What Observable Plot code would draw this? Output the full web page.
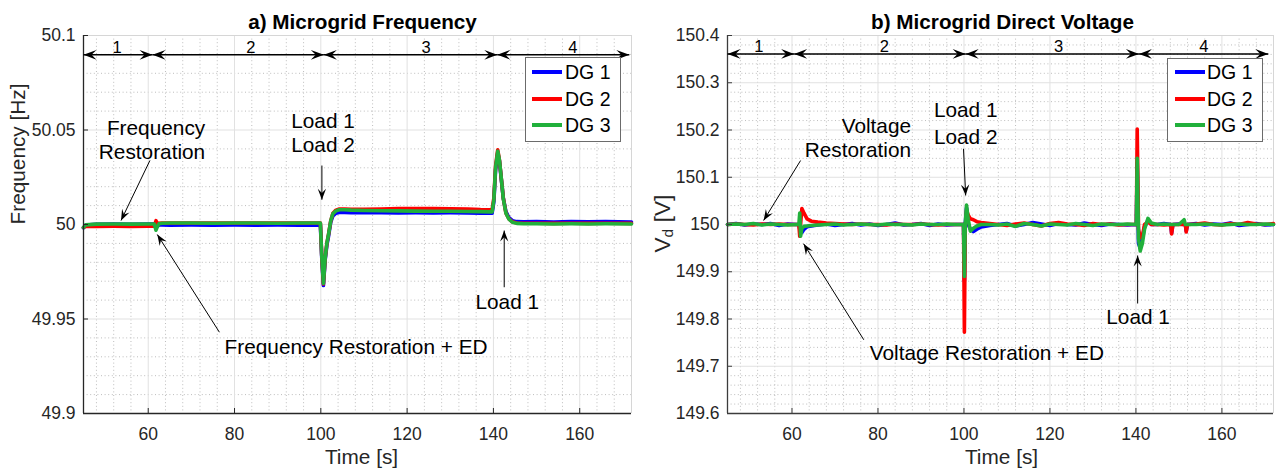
<!DOCTYPE html>
<html>
<head>
<meta charset="utf-8">
<script src="https://cdn.jsdelivr.net/npm/d3@7"></script>
<script src="https://cdn.jsdelivr.net/npm/@observablehq/plot@0.6"></script>
<style>
  body { margin: 0; background: #fff; }
  #wrap { position: relative; width: 1283px; height: 470px; background: #fff; overflow: hidden; }
  .panel { position: absolute; top: 0; }
  .legend { position: absolute; background: #fff; border: 1.5px solid #6b6b6b; box-sizing: border-box;
            font-family: 'Liberation Sans', Arial, sans-serif; font-size: 19.5px; color: #000; }
  .legend .sw { position: absolute; height: 4px; }
  .legend .lb { position: absolute; line-height: 20px; white-space: nowrap; }
</style>
</head>
<body>
<div id="wrap">
  <div id="pa" class="panel" style="left:0px"></div>
  <div id="pb" class="panel" style="left:640px"></div>
</div>
<script>
// ---------------- DATA ----------------
const seriesNames = ["DG 1", "DG 2", "DG 3"];
const seriesColors = ["#0000ff", "#ff0000", "#21b03b"];

// a) Microgrid frequency [Hz]
const tF = [45, 45.5, 48, 52, 56, 60, 61.4, 61.8, 62.1, 62.5, 63.2, 65, 70, 75, 80, 85, 90, 95,
  99.9, 100.2, 100.6, 101.0, 101.4, 101.8, 102.3, 102.8, 103.5, 104.3, 105.5,
  107, 110, 114, 118, 122, 126, 130, 134, 137,
  139.7, 140.1, 140.5, 141.0, 141.4, 141.8, 142.3, 142.9, 143.6, 144.4, 145.4,
  147, 150, 154, 158, 162, 166, 172];
const dg1F = [49.9982, 49.9997, 50.0001, 50.0002, 50.0001, 50.0002,
  50.0002, 49.9985, 49.999, 49.9997, 49.9997,
  49.9996, 49.9997, 49.9996, 49.9997, 49.9996, 49.9997, 49.9996,
  49.9997, 49.983, 49.9677, 49.981, 49.989, 49.994, 50.0012, 50.0045, 50.006, 50.0064, 50.0064,
  50.0063, 50.0062, 50.0062, 50.0061, 50.0062, 50.0061, 50.0062, 50.0061, 50.006,
  50.006, 50.012, 50.029, 50.038, 50.0335, 50.0245, 50.0138, 50.0068, 50.0036, 50.002, 50.0015,
  50.0014, 50.0015, 50.0013, 50.0015, 50.0014, 50.0015, 50.0013];
const dg2F = [49.9984, 49.999, 49.999, 49.9991, 49.999, 49.9991,
  49.9991, 50.002, 50.0005, 50.0007, 50.0008,
  50.0008, 50.0008, 50.0008, 50.0008, 50.0008, 50.0008, 50.0008,
  50.0008, 49.984, 49.9685, 49.982, 49.990, 49.995, 50.002, 50.006, 50.0076, 50.0082, 50.0082,
  50.0081, 50.008, 50.0082, 50.0084, 50.0085, 50.0084, 50.0083, 50.0082, 50.0079,
  50.0078, 50.014, 50.031, 50.0395, 50.034, 50.025, 50.0138, 50.006, 50.003, 50.0014, 50.0008,
  50.0007, 50.0007, 50.0006, 50.0007, 50.0006, 50.0007, 50.0006];
const dg3F = [49.9985, 49.9998, 50.0002, 50.0003, 50.0002, 50.0003,
  50.0003, 49.997, 49.9988, 50.0004, 50.0007,
  50.0008, 50.0008, 50.0007, 50.0008, 50.0008, 50.0007, 50.0008,
  50.0008, 49.984, 49.9688, 49.982, 49.990, 49.995, 50.002, 50.0058, 50.0072, 50.0078, 50.0078,
  50.0076, 50.0074, 50.0073, 50.0072, 50.0071, 50.007, 50.007, 50.0069, 50.0068,
  50.0067, 50.013, 50.030, 50.0388, 50.034, 50.025, 50.0135, 50.006, 50.0028, 50.0012, 50.0006,
  50.0004, 50.0004, 50.0003, 50.0004, 50.0003, 50.0004, 50.0003];

// b) Microgrid direct voltage [V]
const tV = [45, 47, 49, 51, 53, 55, 57, 59, 61,
  61.6, 61.8, 62.0, 62.3, 62.8, 63.5, 64.5,
  66, 68, 70, 72, 74, 76, 78, 80, 82, 84, 86, 88, 90, 92, 94, 96, 98,
  99.9, 100.1, 100.3, 100.6, 101.0, 101.5, 102.2, 103, 104,
  106, 108, 110, 112, 114, 116, 118, 120, 122, 124, 126, 128, 130, 132, 134, 136, 138,
  140.1, 140.3, 140.6, 141.0, 141.5, 142.0, 142.8, 143.6,
  145, 146.5, 148.1, 148.3, 148.6, 150, 151.2, 151.5, 151.7, 152.0,
  154, 156, 158, 160, 162, 164, 166, 168, 170, 172];
const dg1V = [150.0, 150.002, 149.999, 150.001, 150.0, 150.002, 149.998, 150.001, 150.0,
  150.0, 149.99, 149.982, 149.983, 149.99, 149.995, 149.997,
  149.999, 150.001, 149.998, 150.0, 150.002, 149.999, 150.001, 149.998, 150.0, 150.003, 149.999, 150.0, 150.002, 149.998, 150.001, 149.999, 150.0,
  150.0, 149.88, 150.0, 150.035, 150.0, 149.99, 149.985, 149.99, 149.995,
  149.998, 150.0, 150.002, 149.997, 150.0, 150.004, 150.001, 149.998, 150.002, 150.0, 149.999, 150.003, 150.0, 149.998, 150.001, 150.0, 149.999,
  150.0, 150.13, 149.96, 149.95, 149.97, 149.995, 150.008, 150.0,
  150.0, 150.002, 150.0, 149.982, 150.0, 150.001, 150.0, 150.0, 149.986, 150.0,
  150.002, 149.999, 150.001, 150.0, 150.003, 149.998, 150.0, 150.002, 149.999, 150.0];
const dg2V = [150.0, 150.001, 150.0, 149.999, 150.001, 150.0, 150.001, 150.0, 150.0,
  150.0, 149.975, 150.0, 150.034, 150.024, 150.012, 150.007,
  150.005, 150.003, 150.002, 150.001, 150.0, 150.001, 150.0, 150.0, 149.999, 150.001, 150.0, 150.0, 150.001, 150.0, 149.999, 150.0, 150.0,
  150.0, 149.772, 149.99, 150.03, 150.02, 150.012, 150.01, 150.006, 150.004,
  150.002, 150.0, 149.998, 150.001, 150.003, 150.0, 149.997, 150.002, 150.004, 150.001, 150.0, 149.998, 150.002, 150.0, 150.001, 149.999, 150.0,
  150.0, 150.202, 149.99, 149.972, 149.975, 150.0, 150.005, 150.0,
  150.0, 149.999, 150.0, 149.98, 150.0, 150.0, 150.0, 150.0, 149.984, 150.0,
  150.001, 150.003, 150.0, 149.999, 150.002, 150.0, 150.004, 150.001, 150.0, 150.002];
const dg3V = [150.0, 150.001, 150.0, 150.002, 149.999, 150.001, 150.0, 149.999, 150.0,
  150.0, 150.024, 149.975, 149.992, 149.996, 149.997, 149.998,
  149.999, 150.0, 150.001, 149.999, 150.0, 150.001, 150.0, 149.999, 150.001, 150.0, 150.0, 149.999, 150.001, 150.0, 150.0, 150.001, 150.0,
  150.0, 149.89, 150.0, 150.041, 150.01, 149.986, 149.992, 149.997, 150.0,
  150.0, 149.999, 150.001, 149.996, 150.002, 150.0, 149.997, 150.001, 150.0, 149.999, 150.002, 150.0, 149.998, 150.001, 150.0, 150.0, 150.001,
  150.0, 150.14, 149.97, 149.944, 149.96, 149.99, 150.013, 150.003,
  150.0, 150.001, 150.0, 150.0, 150.0, 150.0, 150.01, 150.0, 150.0, 150.0,
  150.0, 150.001, 150.0, 149.999, 150.0, 150.001, 150.0, 150.0, 150.001, 150.0];

// ticks
const xDomain = [45, 172];
const xMajorTicks = [60, 80, 100, 120, 140, 160];
const xMinorTicks = [48, 52, 56, 64, 68, 72, 76, 84, 88, 92, 96, 104, 108, 112, 116, 124, 128, 132, 136, 144, 148, 152, 156, 164, 168];
const fDomain = [49.9, 50.1];
const fMajorTicks = [49.9, 49.95, 50, 50.05, 50.1];
const fMinorTicks = [49.91, 49.92, 49.93, 49.94, 49.96, 49.97, 49.98, 49.99, 50.01, 50.02, 50.03, 50.04, 50.06, 50.07, 50.08, 50.09];
const vDomain = [149.6, 150.4];
const vMajorTicks = [149.6, 149.7, 149.8, 149.9, 150, 150.1, 150.2, 150.3, 150.4];
const vMinorTicks = [149.62, 149.64, 149.66, 149.68, 149.72, 149.74, 149.76, 149.78, 149.82, 149.84, 149.86, 149.88,
  149.92, 149.94, 149.96, 149.98, 150.02, 150.04, 150.06, 150.08, 150.12, 150.14, 150.16, 150.18,
  150.22, 150.24, 150.26, 150.28, 150.32, 150.34, 150.36, 150.38];

// operating phases
const phaseNames = ["1", "2", "3", "4"];
const phaseBoundsF = [45, 61.0, 100.7, 140.9, 171.5];
const phaseLabelXF = [52.8, 83.8, 124.4, 158.4];
const phaseLevelF = 50.0898;
const phaseBoundsV = [45, 60.5, 100.4, 140.7, 170.8];
const phaseLabelXV = [52.3, 81.5, 122, 155.8];
const phaseLevelV = 150.361;

// annotations
const annTextF = [
  {text: "Frequency", x: 73.2, y: 50.0471, anchor: "end"},
  {text: "Restoration", x: 73.2, y: 50.0348, anchor: "end"},
  {text: "Load 1", x: 100.5, y: 50.0513, anchor: "middle"},
  {text: "Load 2", x: 100.5, y: 50.0381, anchor: "middle"},
  {text: "Load 1", x: 143.2, y: 49.9554, anchor: "middle"},
  {text: "Frequency Restoration + ED", x: 77.7, y: 49.9317, anchor: "start"}
];
const annArrowF = [
  {x1: 60.4, y1: 50.0339, x2: 53.7, y2: 50.0021},
  {x1: 100.25, y1: 50.0312, x2: 100.25, y2: 50.0131},
  {x1: 142.5, y1: 49.9668, x2: 142.5, y2: 49.9968},
  {x1: 76.5, y1: 49.943, x2: 62.1, y2: 49.9947}
];
const annTextV = [
  {text: "Voltage", x: 87.7, y: 150.1947, anchor: "end"},
  {text: "Restoration", x: 87.7, y: 150.1418, anchor: "end"},
  {text: "Load 1", x: 100.4, y: 150.2265, anchor: "middle"},
  {text: "Load 2", x: 100.4, y: 150.1714, anchor: "middle"},
  {text: "Load 1", x: 140.5, y: 149.7898, anchor: "middle"},
  {text: "Voltage Restoration + ED", x: 78.1, y: 149.7122, anchor: "start"}
];
const annArrowV = [
  {x1: 62.0, y1: 150.1354, x2: 53.4, y2: 150.0085},
  {x1: 99.9, y1: 150.1602, x2: 100.4, y2: 150.0614},
  {x1: 140.4, y1: 149.8328, x2: 140.4, y2: 149.9344},
  {x1: 76.7, y1: 149.756, x2: 62.7, y2: 149.9592}
];

// ---------------- DRAWING ----------------
const FONT = "'Liberation Sans', Arial, Helvetica, sans-serif";
const arrowHead = {
  draw(ctx, size) {
    const r = Math.sqrt(size / Math.PI);
    const L = 2 * r, W = 1.5 * r;
    ctx.moveTo(0, 0);
    ctx.lineTo(-L, -W / 2);
    ctx.lineTo(-0.62 * L, 0);
    ctx.lineTo(-L, W / 2);
    ctx.closePath();
  }
};

function annotationTexts(texts) {
  return ["start", "middle", "end"].map(a =>
    Plot.text(texts, {filter: d => d.anchor === a, x: "x", y: "y", text: "text", textAnchor: a,
      lineAnchor: "bottom", fontSize: 20.8, fill: "#000"}));
}

function buildPanel(c) {
  const W = c.width, H = 470, mL = c.mL, mR = c.mR, mT = 35, mB = 57;
  const sx = d3.scaleLinear(xDomain, [mL, W - mR]);
  const sy = d3.scaleLinear(c.yDomain, [H - mB, mT]);
  const ang = a => Math.atan2(sy(a.y2) - sy(a.y1), sx(a.x2) - sx(a.x1)) * 180 / Math.PI;
  const segs = phaseNames.map((n, i) => ({x1: c.bounds[i], x2: c.bounds[i + 1], y: c.level, label: n, lx: c.labelX[i]}));
  const heads = segs.flatMap(s => [{x: s.x1, y: s.y, r: 180}, {x: s.x2, y: s.y, r: 0}]);
  const annHeads = c.arrows.map(a => ({x: a.x2, y: a.y2, r: ang(a)}));
  const lines = c.series.map((vals, k) =>
    Plot.line(c.t.map((t, i) => ({t, v: vals[i]})), {
      x: "t", y: "v", stroke: seriesColors[k], strokeWidth: 3.6, strokeLinejoin: "round", strokeLinecap: "round"
    }));
  const grid = {strokeOpacity: 1};
  return Plot.plot({
    width: W, height: H, marginLeft: mL, marginRight: mR, marginTop: mT, marginBottom: mB,
    x: {domain: xDomain}, y: {domain: c.yDomain},
    style: {fontFamily: FONT, fontSize: "17.5px", color: "#262626", background: "transparent"},
    marks: [
      Plot.gridX(xMinorTicks, {...grid, stroke: "#bdbdbd", strokeDasharray: "1,2.6"}),
      Plot.gridY(c.yMinor, {...grid, stroke: "#bdbdbd", strokeDasharray: "1,2.6"}),
      Plot.gridX(xMajorTicks, {...grid, stroke: "#e1e1e1"}),
      Plot.gridY(c.yMajor, {...grid, stroke: "#e1e1e1"}),
      Plot.ruleX([xDomain[1]], {stroke: "#d6d6d6"}),
      Plot.ruleY([c.yDomain[1]], {stroke: "#d6d6d6"}),
      ...lines,
      Plot.ruleX([xDomain[0]], {stroke: c.axisColor, strokeWidth: 1.3}),
      Plot.ruleY([c.yDomain[0]], {stroke: c.axisColor, strokeWidth: 1.3}),
      Plot.axisX(xMajorTicks, {tickSize: 5, dy: -5, tickFormat: () => "", label: null, stroke: c.axisColor}),
      Plot.axisY(c.yMajor, {tickSize: 5, dx: 5, tickFormat: () => "", label: null, stroke: c.axisColor}),
      Plot.axisX(xMajorTicks, {tickSize: 0, tickPadding: 14, label: null, tickFormat: d => String(d), fill: "#262626"}),
      Plot.axisY(c.yMajor, {tickSize: 0, tickPadding: 8, label: null, tickFormat: d => String(d), fill: "#262626"}),
      // titles & labels
      Plot.text([c.title], {frameAnchor: "top", dx: c.titleDx, dy: -7, lineAnchor: "bottom",
        fontWeight: "bold", fontSize: 20.7, fill: "#000"}),
      Plot.text(["Time [s]"], {frameAnchor: "bottom", dx: c.titleDx - 1, dy: 50, lineAnchor: "bottom",
        fontSize: 20.8, fill: "#262626"}),
      ...c.ylabel(),
      // phase arrows
      Plot.link(segs, {x1: "x1", x2: "x2", y1: "y", y2: "y", stroke: "#000", strokeWidth: 1.4}),
      Plot.dot(heads, {x: "x", y: "y", rotate: "r", symbol: arrowHead, r: 6.5, fill: "#000", stroke: "none"}),
      Plot.text(segs, {x: "lx", y: "y", text: "label", lineAnchor: "bottom", dy: -2, fontSize: 16.5, fill: "#000"}),
      // annotations
      Plot.link(c.arrows, {x1: "x1", y1: "y1", x2: "x2", y2: "y2", stroke: "#000", strokeWidth: 1}),
      Plot.dot(annHeads, {x: "x", y: "y", rotate: "r", symbol: arrowHead, r: 5.5, fill: "#000", stroke: "none"}),
      ...annotationTexts(c.texts)
    ]
  });
}

const panelA = buildPanel({
  width: 640, mL: 83, mR: 9, yDomain: fDomain, yMajor: fMajorTicks, yMinor: fMinorTicks,
  t: tF, series: [dg1F, dg2F, dg3F], bounds: phaseBoundsF, labelX: phaseLabelXF, level: phaseLevelF,
  arrows: annArrowF, texts: annTextF, title: "a) Microgrid Frequency", titleDx: 5, axisColor: "#262626",
  ylabel: () => [Plot.text(["Frequency [Hz]"], {frameAnchor: "left", dx: -65, rotate: -90, fontSize: 20.8, fill: "#262626"})]
});
const panelB = buildPanel({
  width: 643, mL: 87, mR: 10, yDomain: vDomain, yMajor: vMajorTicks, yMinor: vMinorTicks,
  t: tV, series: [dg1V, dg2V, dg3V], bounds: phaseBoundsV, labelX: phaseLabelXV, level: phaseLevelV,
  arrows: annArrowV, texts: annTextV, title: "b) Microgrid Direct Voltage", titleDx: 2, axisColor: "#3c3c3c",
  ylabel: () => [
    Plot.text(["V"], {frameAnchor: "left", dx: -65, dy: 28, rotate: -90, textAnchor: "start", fontSize: 22.5, fill: "#262626"}),
    Plot.text(["d"], {frameAnchor: "left", dx: -59, dy: 13, rotate: -90, textAnchor: "start", fontSize: 15.5, fill: "#262626"}),
    Plot.text([" [V]"], {frameAnchor: "left", dx: -65, dy: 4, rotate: -90, textAnchor: "start", fontSize: 22.5, fill: "#262626"})
  ]
});
document.getElementById("pa").appendChild(panelA);
document.getElementById("pb").appendChild(panelB);

// legends
function addLegend(left, top, w, h, swL, swW, txL, rowY) {
  const box = document.createElement("div");
  box.className = "legend";
  Object.assign(box.style, {left: left + "px", top: top + "px", width: w + "px", height: h + "px"});
  seriesNames.forEach((name, i) => {
    const sw = document.createElement("div");
    sw.className = "sw";
    Object.assign(sw.style, {left: swL + "px", width: swW + "px", top: (rowY[i] - 2) + "px", background: seriesColors[i]});
    const lb = document.createElement("div");
    lb.className = "lb";
    lb.textContent = name;
    Object.assign(lb.style, {left: txL + "px", top: (rowY[i] - 10) + "px"});
    box.appendChild(sw); box.appendChild(lb);
  });
  document.getElementById("wrap").appendChild(box);
}
addLegend(525, 57, 96, 85, 6, 30, 39, [13.5, 40.5, 66.5]);
addLegend(1167, 58, 96, 84, 7, 30, 39, [12.5, 39.5, 65.5]);
</script>
</body>
</html>
